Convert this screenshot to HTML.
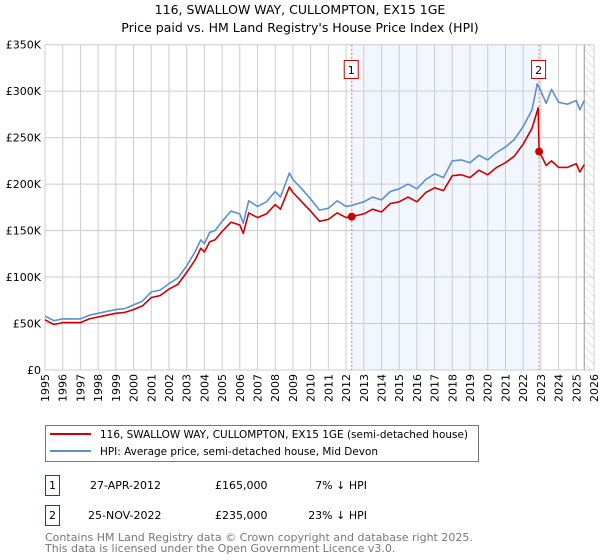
<!DOCTYPE html>
<html><head><meta charset="utf-8"><style>
body{margin:0;background:#fff;font-family:"DejaVu Sans","Liberation Sans",sans-serif;}
svg{display:block}
</style></head><body>
<svg id="c" width="600" height="560" xmlns="http://www.w3.org/2000/svg" font-family="DejaVu Sans, Liberation Sans, sans-serif">
<text x="300" y="14" text-anchor="middle" font-size="12.5" fill="#000">116, SWALLOW WAY, CULLOMPTON, EX15 1GE</text>
<text x="300" y="32" text-anchor="middle" font-size="12.5" fill="#000">Price paid vs. HM Land Registry's House Price Index (HPI)</text>
<g id="plot"></g>
<g>
<rect x="45.5" y="425.5" width="433" height="36" fill="#fff" stroke="#777"/>
<line x1="50" y1="434" x2="91" y2="434" stroke="#cc0000" stroke-width="2"/>
<text x="100" y="438" font-size="11" textLength="368" lengthAdjust="spacingAndGlyphs">116, SWALLOW WAY, CULLOMPTON, EX15 1GE (semi-detached house)</text>
<line x1="50" y1="451" x2="91" y2="451" stroke="#5b8fd0" stroke-width="2"/>
<text x="100" y="455" font-size="11" textLength="278" lengthAdjust="spacingAndGlyphs">HPI: Average price, semi-detached house, Mid Devon</text>
</g>
<g font-size="11">
<rect x="45.5" y="475.5" width="14" height="20" fill="#fff" stroke="#cc0000"/>
<text x="52.5" y="489" text-anchor="middle">1</text>
<text x="90" y="489">27-APR-2012</text>
<text x="215" y="489">£165,000</text>
<text x="367" y="489" text-anchor="end">7% ↓ HPI</text>
<rect x="45.5" y="505.5" width="14" height="20" fill="#fff" stroke="#cc0000"/>
<text x="52.5" y="519" text-anchor="middle">2</text>
<text x="88" y="519">25-NOV-2022</text>
<text x="215" y="519">£235,000</text>
<text x="367" y="519" text-anchor="end">23% ↓ HPI</text>
</g>
<text x="45" y="541" font-size="11" fill="#777">Contains HM Land Registry data © Crown copyright and database right 2025.</text>
<text x="45" y="552" font-size="11" fill="#777">This data is licensed under the Open Government Licence v3.0.</text>
</svg>
<script>
const yearTicks=[1995,1996,1997,1998,1999,2000,2001,2002,2003,2004,2005,2006,2007,2008,2009,2010,2011,2012,2013,2014,2015,2016,2017,2018,2019,2020,2021,2022,2023,2024,2025,2026];
const valueTicks=[0,50000,100000,150000,200000,250000,300000,350000];
const valueTickLabels=["£0","£50K","£100K","£150K","£200K","£250K","£300K","£350K"];
const hpiYears=[1995,1995.5,1996,1996.5,1997,1997.5,1998,1998.5,1999,1999.5,2000,2000.5,2001,2001.5,2002,2002.5,2003,2003.5,2003.8,2004,2004.3,2004.6,2005,2005.5,2006,2006.2,2006.5,2007,2007.5,2008,2008.3,2008.8,2009,2009.5,2010,2010.5,2011,2011.5,2012,2012.3,2013,2013.5,2014,2014.5,2015,2015.5,2016,2016.5,2017,2017.5,2018,2018.5,2019,2019.5,2020,2020.5,2021,2021.5,2022,2022.5,2022.8,2023,2023.3,2023.6,2024,2024.5,2025,2025.2,2025.45];
const hpiValues=[58,53,55,55,55,59,61,63,65,66,70,74,84,86,93,99,112,128,140,136,148,150,160,171,168,158,182,176,181,192,186,212,205,195,184,172,174,182,176,177,181,186,183,192,195,200,195,205,211,207,225,226,223,231,226,234,240,248,262,280,308,300,287,302,288,286,290,280,290];
const priceYears=[1995,1995.5,1996,1996.5,1997,1997.5,1998,1998.5,1999,1999.5,2000,2000.5,2001,2001.5,2002,2002.5,2003,2003.5,2003.8,2004,2004.3,2004.6,2005,2005.5,2006,2006.2,2006.5,2007,2007.5,2008,2008.3,2008.8,2009,2009.5,2010,2010.5,2011,2011.5,2012,2012.32,2013,2013.5,2014,2014.5,2015,2015.5,2016,2016.5,2017,2017.5,2018,2018.5,2019,2019.5,2020,2020.5,2021,2021.5,2022,2022.5,2022.85,2022.9,2023.1,2023.3,2023.6,2024,2024.5,2025,2025.2,2025.45];
const priceValues=[54,49,51,51,51,55,57,59,61,62,65,69,78,80,87,92,105,119,131,127,138,140,149,159,156,147,169,164,168,178,173,197,191,181,171,160,162,169,164,165,168,173,170,179,181,186,181,191,196,193,209,210,207,215,210,218,223,230,243,260,282,235,228,220,225,218,218,222,213,221];
const saleYears=[2012.32,2022.9];
const saleValues=[165,235];
const saleLabels=["1","2"];

const X0=45,X1=594,Y0=370,Y1=44.7;
const xs=y=>X0+(y-1995)/(2026-1995)*(X1-X0);
const ys=v=>Y0-v/350000*(Y0-Y1);
const NS="http://www.w3.org/2000/svg";
const g=document.getElementById('plot');
function mk(t,a){const e=document.createElementNS(NS,t);for(const k in a)e.setAttribute(k,a[k]);g.appendChild(e);return e;}

let e=mk('rect',{x:xs(saleYears[0]),y:Y1,width:xs(saleYears[1])-xs(saleYears[0]),height:Y0-Y1,fill:'#eef3fd',opacity:0.75});


const defs=mk('defs',{});
defs.innerHTML='<pattern id="hatch" width="6" height="6" patternUnits="userSpaceOnUse" patternTransform="rotate(-45)"><line x1="0" y1="0" x2="0" y2="6" stroke="#ccc" stroke-width="1"/></pattern>';
e=mk('rect',{x:xs(2025.45),y:Y1,width:X1-xs(2025.45),height:Y0-Y1,fill:'url(#hatch)'});



yearTicks.forEach((yr,i)=>{
  const x=xs(yr);
  let l=mk('line',{x1:x,y1:Y1,x2:x,y2:Y0,stroke:'#ccc','stroke-width':1});
  
  
  let t=mk('text',{x:0,y:0,transform:`translate(${x+4},${Y0+4}) rotate(-90)`,'text-anchor':'end','font-size':11});
  t.textContent=yr;
  
  
});
valueTicks.forEach((v,i)=>{
  const y=ys(v);
  let l=mk('line',{x1:X0,y1:y,x2:X1,y2:y,stroke:'#ccc','stroke-width':1});
  
  
  let t=mk('text',{x:X0-4,y:y+4,'text-anchor':'end','font-size':11});
  t.textContent=valueTickLabels[i];
  
  
});
e=mk('line',{x1:xs(2025.45),y1:Y1,x2:xs(2025.45),y2:Y0,stroke:'#999','stroke-width':1});



saleYears.forEach((yr,i)=>{
  const x=xs(yr);
  let l=mk('line',{x1:x,y1:Y1,x2:x,y2:Y0,stroke:'#ff6666','stroke-width':1,'stroke-dasharray':'2,2'});
  
  
});

function path(xsA,vs,color,name){
  const d=xsA.map((yr,i)=>(i?'L':'M')+xs(yr).toFixed(1)+','+ys(vs[i]*1000).toFixed(1)).join('');
  const p=mk('path',{d:d,fill:'none',stroke:color,'stroke-width':1.6,'stroke-linejoin':'round'});
  
  
}
path(hpiYears,hpiValues,'#5b8fd0','hpi-line');
path(priceYears,priceValues,'#cc0000','price-line');

saleYears.forEach((yr,i)=>{
  const x=xs(yr),y=ys(saleValues[i]*1000);
  let c=mk('circle',{cx:x,cy:y,r:4,fill:'#cc0000'});
  
  
  let r=mk('rect',{x:x-7.5,y:60.5,width:14,height:18,fill:'#fff',stroke:'#cc0000'});
  
  
  let t=mk('text',{x:x-0.5,y:74,'text-anchor':'middle','font-size':11});
  t.textContent=saleLabels[i];
  
  
});
</script>
</body></html>
